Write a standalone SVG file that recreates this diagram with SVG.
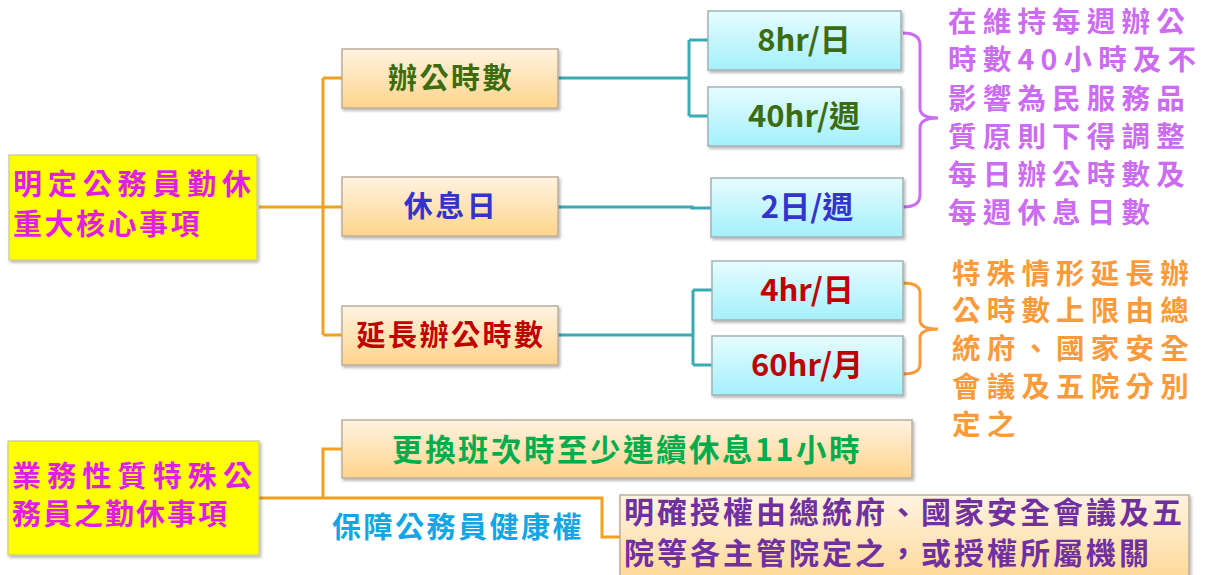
<svg xmlns="http://www.w3.org/2000/svg" width="1208" height="575" viewBox="0 0 1208 575">
<defs>
<linearGradient id="gOr" x1="0" y1="0" x2="0" y2="1"><stop offset="0" stop-color="#fff3e2"/><stop offset="1" stop-color="#fed48a"/></linearGradient>
<linearGradient id="gCy" x1="0" y1="0" x2="0" y2="1"><stop offset="0" stop-color="#e6fcff"/><stop offset="1" stop-color="#a4f0fb"/></linearGradient>
<filter id="sh" x="-10%" y="-10%" width="130%" height="140%"><feDropShadow dx="1.5" dy="2" stdDeviation="1.5" flood-color="#000" flood-opacity="0.3"/></filter>
</defs>
<style>
text{font-family:"Noto Sans CJK TC","Noto Sans",sans-serif;font-weight:bold}
.yel{fill:#ffff00;stroke:#c8c890;stroke-width:1.2;filter:url(#sh)}
.or{fill:url(#gOr);stroke:#bcae9c;stroke-width:1.5;filter:url(#sh)}
.cy{fill:url(#gCy);stroke:#a2b2b4;stroke-width:1.5;filter:url(#sh)}
.mag{fill:#e21ee2;font-size:29px}
.mid{text-anchor:middle}
.c28{font-size:29px;letter-spacing:2.5px}
.c30{font-size:31px}
.oc{fill:none;stroke:#f2a11c;stroke-width:3}
.tc{fill:none;stroke:#38abb6;stroke-width:3}
.note{font-size:28.5px;letter-spacing:6.2px}
</style>
<g id="connectors">
<path class="oc" d="M259,207 H323 M323,78 V335 M323,78 H342 M323,207 H342 M323,335 H342"/>
<path class="tc" d="M558,78 H689 M689,40 V116 M689,40 H708 M689,116 H708"/>
<path class="tc" d="M558,207 H692 V208 H711"/>
<path class="tc" d="M558,335 H693 M693,290 V365 M693,290 H712 M693,365 H712"/>
<path class="oc" d="M259,498 H602 V537 H620 M323,498 V449 H342"/>
<path d="M903,33 Q920,33 920,45 L920,108 Q920,118 938,118 Q920,118 920,128 L920,195 Q920,207 903,207" fill="none" stroke="#cc6cf2" stroke-width="3"/>
<path d="M903,283 Q920,283 920,293 L920,320 Q920,329 938,329 Q920,329 920,338 L920,364 Q920,374 903,374" fill="none" stroke="#fb9a3a" stroke-width="3"/>
</g>
<g id="n-root1"><rect class="yel" x="9" y="155" width="248" height="105"/>
<text class="mag" x="13" y="195" textLength="238" lengthAdjust="spacing">明定公務員勤休</text>
<text class="mag" x="13" y="235" letter-spacing="2.5">重大核心事項</text></g>
<g id="n-hours"><rect class="or" x="342" y="49" width="216" height="59"/><text class="mid c28" x="451" y="89" fill="#3c6c10">辦公時數</text></g>
<g id="n-rest"><rect class="or" x="342" y="177" width="216" height="59"/><text class="mid c28" x="451" y="217" fill="#3434cc">休息日</text></g>
<g id="n-ext"><rect class="or" x="342" y="306" width="216" height="59"/><text class="mid c28" x="451" y="346" fill="#c00000">延長辦公時數</text></g>
<g id="n-8hr"><rect class="cy" x="708" y="11" width="193" height="59"/><text class="mid c30" x="804" y="51" fill="#3c6c10">8hr/日</text></g>
<g id="n-40hr"><rect class="cy" x="708" y="87" width="193" height="59"/><text class="mid c30" x="804" y="127" fill="#3c6c10">40hr/週</text></g>
<g id="n-2d"><rect class="cy" x="711" y="178" width="192" height="59"/><text class="mid c30" x="807" y="218" fill="#3434cc">2日/週</text></g>
<g id="n-4hr"><rect class="cy" x="712" y="261" width="191" height="59"/><text class="mid c30" x="807" y="301" fill="#c00000">4hr/日</text></g>
<g id="n-60hr"><rect class="cy" x="712" y="336" width="191" height="59"/><text class="mid c30" x="807" y="376" fill="#c00000">60hr/月</text></g>
<g id="n-note1">
<text class="note" fill="#cc6cf2" x="948" y="32">在維持每週辦公</text>
<text class="note" fill="#cc6cf2" x="948" y="70">時數40小時及不</text>
<text class="note" fill="#cc6cf2" x="948" y="109">影響為民服務品</text>
<text class="note" fill="#cc6cf2" x="948" y="147">質原則下得調整</text>
<text class="note" fill="#cc6cf2" x="948" y="185">每日辦公時數及</text>
<text class="note" fill="#cc6cf2" x="948" y="223">每週休息日數</text>
</g>
<g id="n-note2">
<text class="note" fill="#fb9a3a" x="952" y="284">特殊情形延長辦</text>
<text class="note" fill="#fb9a3a" x="952" y="321">公時數上限由總</text>
<text class="note" fill="#fb9a3a" x="952" y="359">統府、國家安全</text>
<text class="note" fill="#fb9a3a" x="952" y="397">會議及五院分別</text>
<text class="note" fill="#fb9a3a" x="952" y="435">定之</text>
</g>
<g id="n-root2"><rect class="yel" x="8" y="441" width="251" height="114"/>
<text class="mag" x="12" y="487" textLength="240" lengthAdjust="spacing">業務性質特殊公</text>
<text class="mag" x="12" y="525" letter-spacing="2">務員之勤休事項</text></g>
<g id="n-shift"><rect class="or" x="342" y="420" width="570" height="58"/><text class="mid" x="627" y="461" font-size="30.5" letter-spacing="2.5" fill="#00ac4c">更換班次時至少連續休息11小時</text></g>
<g id="n-health"><text x="332" y="538" font-size="29" letter-spacing="2.5" fill="#12a6e4">保障公務員健康權</text></g>
<g id="n-auth"><rect class="or" x="620" y="495" width="569" height="100"/>
<text x="624" y="523" font-size="30" letter-spacing="3" fill="#7030a0">明確授權由總統府、國家安全會議及五</text>
<text x="624" y="564" font-size="30" letter-spacing="3" fill="#7030a0">院等各主管院定之，或授權所屬機關</text></g>
</svg>
